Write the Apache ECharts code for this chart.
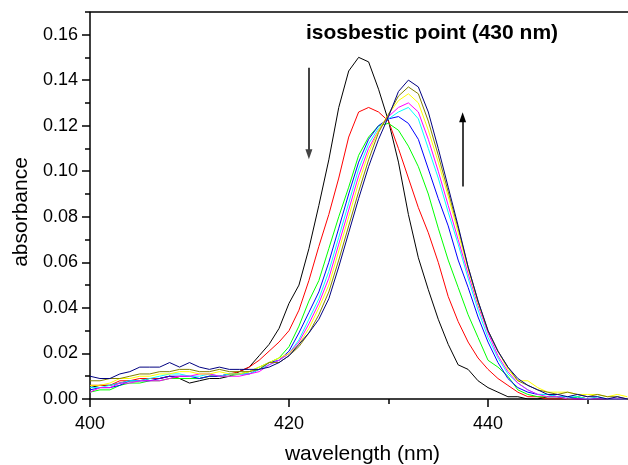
<!DOCTYPE html>
<html>
<head>
<meta charset="utf-8">
<script src="https://cdn.jsdelivr.net/npm/echarts@6/dist/echarts.min.js"></script>
<style>
html,body{margin:0;padding:0;background:#fff;}
#chart{width:628px;height:465px;}
</style>
</head>
<body>
<div id="chart"></div>
<script>
const wavelengths = [400,401,402,403,404,405,406,407,408,409,410,411,412,413,414,415,416,417,418,419,420,421,422,423,424,425,426,427,428,429,430,431,432,433,434,435,436,437,438,439,440,441,442,443,444,445,446,447,448,449,450,451,452,453,454];

const curveBlack = [0.005,0.006,0.006,0.007,0.008,0.008,0.009,0.009,0.010,0.009,0.007,0.008,0.009,0.009,0.010,0.012,0.014,0.019,0.024,0.031,0.042,0.050,0.066,0.085,0.105,0.128,0.144,0.150,0.148,0.136,0.122,0.104,0.081,0.062,0.048,0.035,0.024,0.015,0.013,0.008,0.005,0.003,0.001,0.001,0.000,0.000,0.001,0.001,0.000,0.001,0.000,0.000,0.000,0.000,0.000];
const curveRed = [0.006,0.006,0.006,0.008,0.008,0.009,0.009,0.009,0.010,0.009,0.009,0.009,0.010,0.010,0.011,0.012,0.014,0.017,0.021,0.025,0.030,0.039,0.052,0.067,0.081,0.097,0.115,0.126,0.128,0.126,0.122,0.110,0.097,0.084,0.073,0.060,0.045,0.034,0.025,0.018,0.013,0.009,0.006,0.003,0.001,0.001,0.000,0.000,0.000,0.000,0.000,0.000,0.000,0.000,0.000];
const curveGreen = [0.003,0.004,0.004,0.006,0.007,0.007,0.008,0.008,0.009,0.009,0.009,0.009,0.010,0.010,0.010,0.011,0.012,0.014,0.016,0.018,0.023,0.032,0.043,0.052,0.066,0.080,0.093,0.107,0.115,0.120,0.121,0.118,0.111,0.102,0.090,0.075,0.061,0.049,0.037,0.027,0.017,0.014,0.010,0.004,0.002,0.001,0.001,0.001,0.000,0.001,0.000,0.000,0.000,0.000,0.000];
const curveBlue = [0.004,0.005,0.005,0.006,0.008,0.008,0.008,0.009,0.010,0.010,0.010,0.009,0.010,0.010,0.011,0.011,0.011,0.013,0.016,0.017,0.021,0.029,0.038,0.047,0.060,0.075,0.090,0.104,0.114,0.120,0.123,0.124,0.121,0.114,0.101,0.088,0.076,0.061,0.049,0.036,0.025,0.016,0.009,0.005,0.003,0.002,0.002,0.001,0.001,0.000,0.000,0.000,0.000,0.000,0.000];
const curveCyan = [0.005,0.005,0.006,0.007,0.008,0.008,0.009,0.010,0.011,0.011,0.010,0.010,0.011,0.010,0.011,0.011,0.011,0.013,0.015,0.017,0.020,0.026,0.035,0.044,0.056,0.071,0.086,0.101,0.112,0.119,0.123,0.126,0.128,0.123,0.110,0.097,0.082,0.068,0.053,0.039,0.027,0.018,0.011,0.007,0.004,0.002,0.002,0.001,0.001,0.001,0.000,0.001,0.000,0.000,0.000];
const curveMagenta = [0.003,0.005,0.005,0.007,0.007,0.008,0.008,0.008,0.009,0.010,0.010,0.011,0.011,0.010,0.010,0.010,0.011,0.012,0.015,0.017,0.020,0.025,0.033,0.042,0.053,0.068,0.083,0.098,0.110,0.118,0.124,0.128,0.130,0.126,0.114,0.100,0.085,0.070,0.055,0.041,0.029,0.019,0.012,0.007,0.004,0.002,0.001,0.001,0.000,0.000,0.000,0.000,0.000,0.000,0.000];
const curveYellow = [0.006,0.006,0.007,0.009,0.009,0.010,0.010,0.011,0.011,0.012,0.012,0.011,0.011,0.012,0.011,0.011,0.012,0.014,0.016,0.018,0.020,0.024,0.031,0.040,0.050,0.065,0.080,0.095,0.108,0.118,0.125,0.131,0.134,0.130,0.118,0.104,0.089,0.073,0.057,0.042,0.030,0.021,0.013,0.008,0.008,0.005,0.003,0.003,0.003,0.002,0.002,0.002,0.001,0.002,0.001];
const curveOlive = [0.008,0.008,0.009,0.009,0.010,0.011,0.011,0.012,0.012,0.013,0.013,0.012,0.012,0.013,0.012,0.012,0.012,0.013,0.016,0.016,0.019,0.023,0.029,0.037,0.047,0.061,0.076,0.091,0.105,0.117,0.125,0.133,0.137,0.134,0.122,0.107,0.091,0.075,0.058,0.043,0.030,0.021,0.014,0.008,0.006,0.004,0.003,0.002,0.003,0.002,0.001,0.002,0.001,0.001,0.000];
const curveNavy = [0.010,0.009,0.009,0.011,0.012,0.014,0.014,0.014,0.016,0.014,0.016,0.014,0.013,0.014,0.013,0.013,0.013,0.013,0.014,0.016,0.019,0.024,0.029,0.035,0.044,0.058,0.073,0.088,0.102,0.114,0.124,0.135,0.140,0.137,0.126,0.110,0.093,0.076,0.058,0.043,0.030,0.021,0.014,0.009,0.006,0.004,0.002,0.002,0.001,0.002,0.001,0.001,0.000,0.001,0.000];

const curveNames = ['black','red','green','blue','cyan','magenta','yellow','olive','navy'];
const curveValues = [curveBlack,curveRed,curveGreen,curveBlue,curveCyan,curveMagenta,curveYellow,curveOlive,curveNavy];
const curveColors = ['#000000','#ff0000','#00ff00','#0000ff','#00ffff','#ff00ff','#ffff00','#808000','#000080'];

// annotation arrows (data coordinates)
const arrowDown = [[422, 0.1454], [422, 0.1075]];
const arrowUp = [[437.45, 0.0933], [437.45, 0.1237]];
// plot frame (data coordinates)
const frameLeft = [[400, 0], [400, 0.17]];
const frameTop = [[400, 0.17], [460, 0.17]];

const FONT = '"Liberation Sans", Arial, Helvetica, sans-serif';

const chart = echarts.init(document.getElementById('chart'), null, {renderer: 'canvas'});

const series = curveNames.map((name, i) => ({
  name: name,
  type: 'line',
  data: wavelengths.map((w, j) => [w, curveValues[i][j]]),
  symbol: 'none',
  showSymbol: false,
  lineStyle: {color: curveColors[i], width: 1},
  itemStyle: {color: curveColors[i]},
  emphasis: {disabled: true},
  silent: true,
  z: 3 + i
}));

series.push({
  name: 'annotations',
  type: 'line',
  data: [],
  silent: true,
  markLine: {
    silent: true,
    animation: false,
    label: {show: false},
    emphasis: {disabled: true},
    data: [
      [{coord: frameLeft[0], symbol: 'none', lineStyle: {color: '#000', width: 1.5, type: 'solid'}},
       {coord: frameLeft[1], symbol: 'none'}],
      [{coord: frameTop[0], symbol: 'none', lineStyle: {color: '#000', width: 1.5, type: 'solid'}},
       {coord: frameTop[1], symbol: 'none'}],
      [{coord: arrowDown[0], symbol: 'none', lineStyle: {color: '#444', width: 2, type: 'solid'}},
       {coord: arrowDown[1], symbol: 'triangle', symbolSize: [7, 10]}],
      [{coord: arrowUp[0], symbol: 'none', lineStyle: {color: '#000', width: 1.5, type: 'solid'}},
       {coord: arrowUp[1], symbol: 'triangle', symbolSize: [7, 10]}]
    ]
  }
});

const option = {
  animation: false,
  backgroundColor: '#ffffff',
  title: {
    text: 'isosbestic point (430 nm)',
    left: 306,
    top: 23,
    padding: 0,
    textStyle: {fontFamily: FONT, fontSize: 21, fontWeight: 'bold', color: '#000'}
  },
  grid: {left: 90, right: -59, top: -11, bottom: 66, containLabel: false, outerBoundsMode: 'none'},
  xAxis: {
    type: 'value',
    min: 400,
    max: 460,
    interval: 20,
    name: 'wavelength (nm)',
    nameLocation: 'middle',
    nameGap: 45,
    nameTextStyle: {fontFamily: FONT, fontSize: 21, color: '#000', padding: [0, 52, 0, 0]},
    axisLine: {show: true, onZero: false, lineStyle: {color: '#000', width: 1.5}},
    axisTick: {show: true, inside: false, length: 8, lineStyle: {color: '#000', width: 1.5}},
    minorTick: {show: true, splitNumber: 2, length: 5, lineStyle: {color: '#000', width: 1.5}},
    axisLabel: {fontFamily: FONT, fontSize: 18, color: '#000', margin: 16, showMaxLabel: false},
    splitLine: {show: false},
    minorSplitLine: {show: false}
  },
  yAxis: {
    type: 'value',
    min: 0,
    max: 0.18,
    interval: 0.02,
    name: 'absorbance',
    nameLocation: 'middle',
    nameGap: 58,
    nameRotate: 90,
    nameTextStyle: {fontFamily: FONT, fontSize: 21, color: '#000', padding: [0, 36, 0, 0]},
    axisLine: {show: false},
    axisTick: {show: true, inside: false, length: 8, lineStyle: {color: '#000', width: 1.5}},
    minorTick: {show: true, splitNumber: 2, length: 5, lineStyle: {color: '#000', width: 1.5}},
    axisLabel: {fontFamily: FONT, fontSize: 18, color: '#000', margin: 12, showMaxLabel: false,
      formatter: v => v.toFixed(2)},
    splitLine: {show: false},
    minorSplitLine: {show: false}
  },
  series: series
};

chart.setOption(option);
</script>
</body>
</html>
